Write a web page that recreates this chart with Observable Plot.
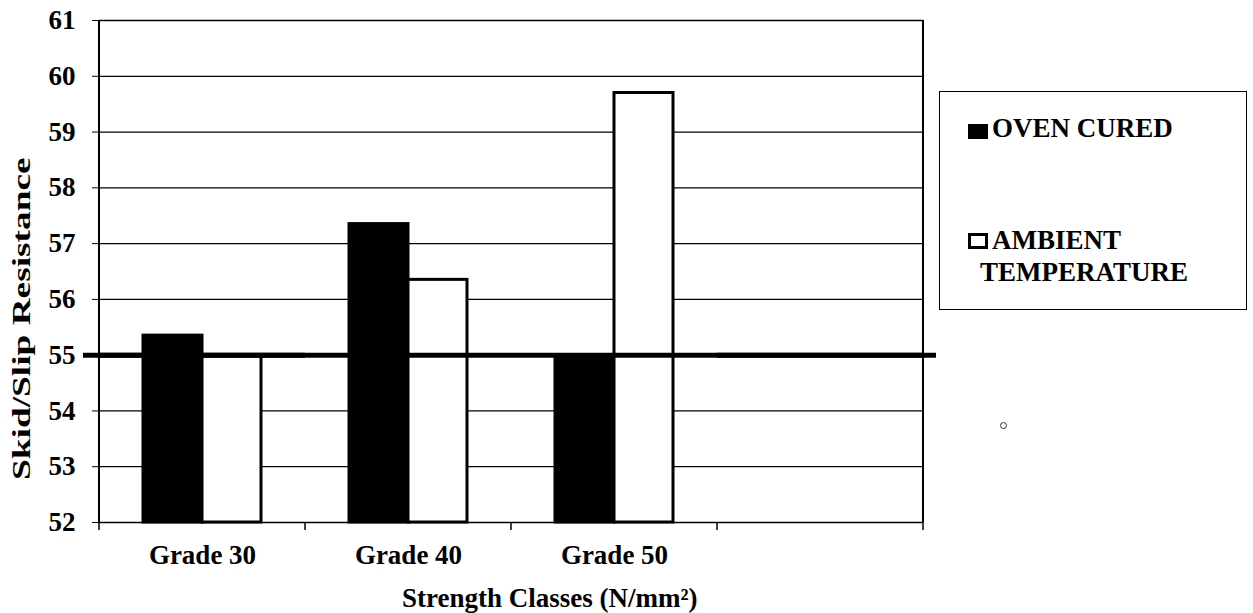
<!DOCTYPE html>
<html><head><meta charset="utf-8">
<script src="https://cdn.jsdelivr.net/npm/d3@7"></script>
<script src="https://cdn.jsdelivr.net/npm/@observablehq/plot@0.6"></script>
<style>
body{margin:0;background:#fff;}
#wrap{position:relative;width:1253px;height:613px;overflow:hidden;font-family:"Liberation Serif","DejaVu Serif",serif;font-weight:bold;color:#000;}
#wrap svg{position:absolute;left:0;top:0;}
.t{position:absolute;font-size:27px;line-height:27px;white-space:nowrap;}
</style></head><body><div id="wrap"></div>
<script>
const grades = ["Grade 30", "Grade 40", "Grade 50", ""];
const series = ["OVEN CURED", "AMBIENT TEMPERATURE"];
const ovenCured = [55.35, 57.35, 55.0];
const ambientTemperature = [55.0, 56.35, 59.7];
const yTicks = [52, 53, 54, 55, 56, 57, 58, 59, 60, 61];
const threshold = 55;
const yTitle = "Skid/Slip Resistance";
const xTitle = "Strength Classes (N/mm²)";

const bars = [];
grades.slice(0, 3).forEach((g, i) => {
  bars.push({grade: g, series: series[0], value: ovenCured[i]});
  bars.push({grade: g, series: series[1], value: ambientTemperature[i]});
});
const grid = grades.flatMap(g => yTicks.map(t => ({grade: g, y: t})));
const thr = grades.map(g => ({grade: g, y: threshold}));

const chart = Plot.plot({
  width: 1253, height: 613,
  marginLeft: 98, marginRight: 329, marginTop: 20, marginBottom: 91,
  style: {fontFamily: "'Liberation Serif','DejaVu Serif',serif", fontWeight: "bold", fontSize: "27px", background: "white", color: "black"},
  fx: {domain: grades, padding: 0, axis: "bottom", label: null, tickSize: 0, tickPadding: 22},
  x: {domain: series, paddingInner: 0, paddingOuter: 0.717, axis: null},
  y: {domain: [yTicks[0], yTicks[yTicks.length - 1]], ticks: yTicks, tickSize: 7, tickPadding: 17, label: null},
  color: {domain: series, range: ["black", "white"]},
  marks: [
    Plot.ruleY(grid, {fx: "grade", y: "y", stroke: "black", strokeWidth: 1.3}),
    Plot.barY(bars, {fx: "grade", x: "series", y1: yTicks[0], y2: "value", fill: "series", stroke: "black", strokeWidth: 3}),
    Plot.ruleY(thr, {fx: "grade", y: "y", stroke: "black", strokeWidth: 5}),
    Plot.ruleY(thr.slice(0, 1), {fx: "grade", y: "y", stroke: "black", strokeWidth: 5, insetLeft: -16}),
    Plot.ruleY(thr.slice(-1), {fx: "grade", y: "y", stroke: "black", strokeWidth: 5, insetRight: -13})
  ]
});

// category boundary ticks and plot-area side borders, placed with Plot's own scales
const fxs = chart.scale("fx"), ys = chart.scale("y");
const xs = grades.map(g => fxs.apply(g));
const bw = fxs.bandwidth ?? (xs[1] - xs[0]);
xs.push(xs[xs.length - 1] + bw);
const yb = ys.apply(yTicks[0]), yt = ys.apply(yTicks[yTicks.length - 1]);
const gg = d3.select(chart).append("g").attr("stroke", "black");
xs.forEach(x => gg.append("line").attr("x1", x).attr("x2", x).attr("y1", yb).attr("y2", yb + 8).attr("stroke-width", 1.5));
[xs[0], xs[xs.length - 1]].forEach(x => gg.append("line").attr("x1", x).attr("x2", x).attr("y1", yt).attr("y2", yb).attr("stroke-width", 2));

const wrap = document.getElementById("wrap");
wrap.appendChild(chart);

function addText(txt, left, top, extra) {
  const d = document.createElement("div");
  d.className = "t"; d.textContent = txt;
  d.style.left = left + "px"; d.style.top = top + "px";
  if (extra) Object.assign(d.style, extra);
  wrap.appendChild(d);
  return d;
}
// y axis title (elongated as in the reference)
const yt1 = addText(yTitle, 0, 0, {transformOrigin: "0 0", fontSize: "26px", lineHeight: "26px"});
const yw = yt1.offsetWidth;
const ys1 = 323 / yw;
yt1.style.left = "9px";
yt1.style.top = (318 + 323 / 2) + "px";
yt1.style.transform = "rotate(-90deg) scaleX(" + ys1.toFixed(3) + ")";
// x axis title
const xt1 = addText(xTitle, 0, 585);
xt1.style.left = (550 - xt1.offsetWidth / 2) + "px";

// legend
const box = document.createElement("div");
Object.assign(box.style, {position: "absolute", left: "939px", top: "91px", width: "306px", height: "217px", border: "1.5px solid black"});
wrap.appendChild(box);
const sw1 = document.createElement("div");
Object.assign(sw1.style, {position: "absolute", left: "968px", top: "124px", width: "20px", height: "15px", background: "black"});
wrap.appendChild(sw1);
const sw2 = document.createElement("div");
Object.assign(sw2.style, {position: "absolute", left: "968px", top: "233px", width: "14px", height: "10px", border: "3px solid black", background: "white"});
wrap.appendChild(sw2);
addText(series[0], 992, 115);
addText("AMBIENT", 992, 227);
addText("TEMPERATURE", 980, 259);
const dot = document.createElement("div");
Object.assign(dot.style, {position: "absolute", left: "1000px", top: "422px", width: "5px", height: "5px", border: "1px solid #333", borderRadius: "50%"});
wrap.appendChild(dot);
</script>
</body></html>
